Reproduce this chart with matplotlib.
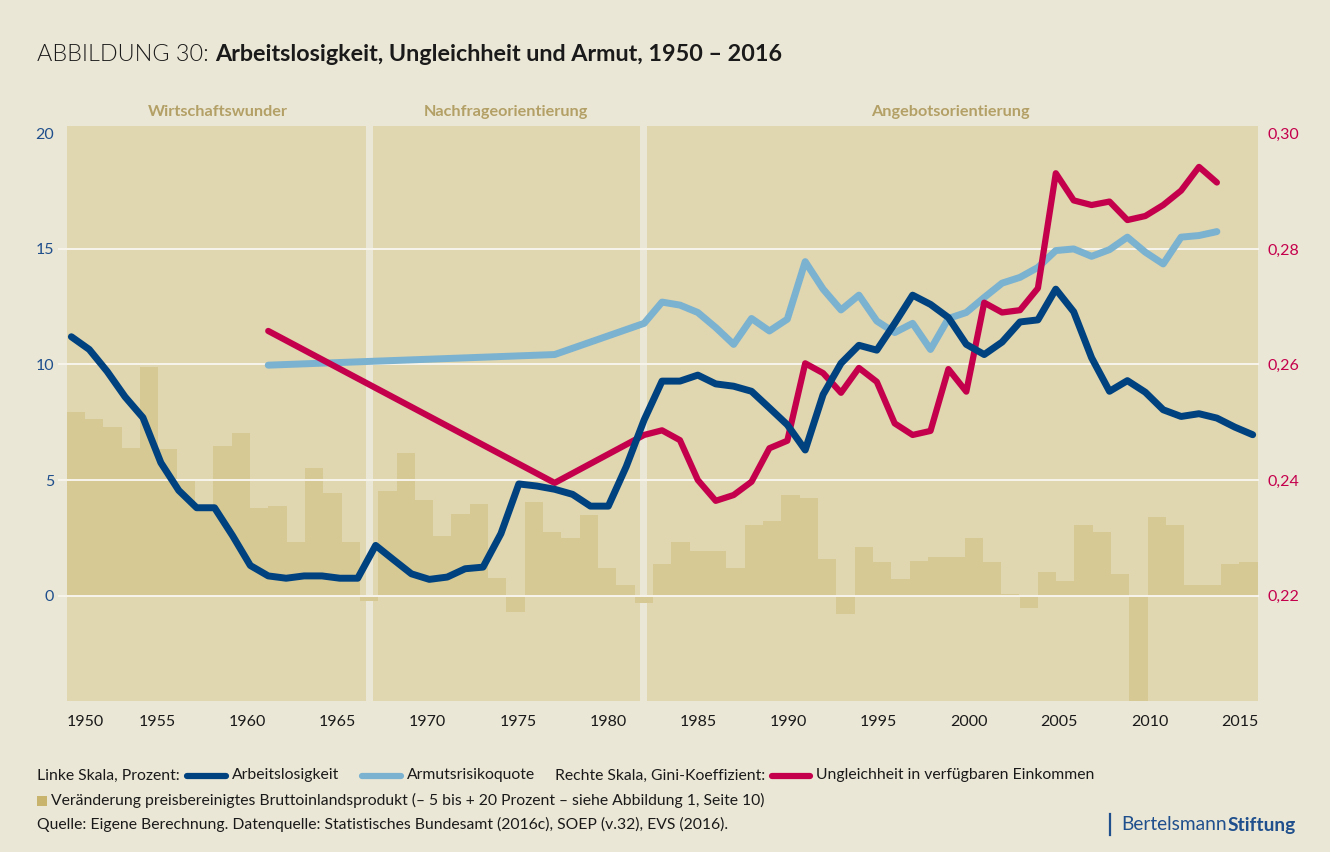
import matplotlib
matplotlib.use("Agg")
import matplotlib.pyplot as plt
from matplotlib.lines import Line2D
from matplotlib.patches import Rectangle

# --- data ---
years = list(range(1950, 2017))
unemployment = [11.2, 10.65, 9.7, 8.6, 7.7, 5.75, 4.55, 3.8, 3.8, 2.6,
                1.3, 0.85, 0.75, 0.85, 0.85, 0.75, 0.75, 2.17, 1.55, 0.94,
                0.7, 0.8, 1.16, 1.23, 2.68, 4.83, 4.74, 4.6, 4.38, 3.87,
                3.87, 5.58, 7.6, 9.28, 9.28, 9.54, 9.16, 9.06, 8.84, 8.12,
                7.39, 6.3, 8.7, 10.05, 10.83, 10.62, 11.78, 13.0, 12.6, 12.03,
                10.87, 10.43, 10.97, 11.84, 11.93, 13.26, 12.28, 10.29, 8.84, 9.3,
                8.8, 8.04, 7.75, 7.87, 7.68, 7.29, 6.96]

survey_years = [1961, 1977] + list(range(1982, 2015))
poverty = [9.97, 10.43, 11.78, 12.7, 12.57, 12.25, 11.6, 10.87, 11.99, 11.45,
           11.96, 14.45, 13.26, 12.36, 13.0, 11.88, 11.38, 11.78, 10.65, 11.99,
           12.25, 12.9, 13.52, 13.77, 14.2, 14.93, 15.0, 14.68, 14.97, 15.51,
           14.86, 14.35, 15.51, 15.58, 15.75]
gini = [0.2658, 0.2395, 0.2478, 0.2486, 0.2469, 0.2400, 0.2364, 0.2374, 0.2397, 0.2455,
        0.2468, 0.2602, 0.2585, 0.2551, 0.2594, 0.2570, 0.2498, 0.2478, 0.2485, 0.2592,
        0.2553, 0.2707, 0.2690, 0.2694, 0.2732, 0.2931, 0.2884, 0.2876, 0.2882, 0.2850,
        0.2857, 0.2876, 0.2901, 0.2942, 0.2915]

gdp_years = list(range(1951, 2016))
gdp = [7.94, 7.64, 7.29, 6.39, 9.91, 6.34, 4.97, 3.75, 6.47, 7.03,
       3.8, 3.87, 2.32, 5.52, 4.44, 2.32, -0.22, 4.52, 6.17, 4.13,
       2.59, 3.53, 3.96, 0.76, -0.7, 4.05, 2.75, 2.49, 3.48, 1.19,
       0.45, -0.31, 1.36, 2.32, 1.93, 1.93, 1.19, 3.05, 3.22, 4.35,
       4.22, 1.58, -0.79, 2.1, 1.45, 0.71, 1.49, 1.67, 1.67, 2.49,
       1.45, 0.06, -0.53, 1.02, 0.63, 3.05, 2.75, 0.93, -4.6, 3.4,
       3.05, 0.45, 0.45, 1.36, 1.45]

era_names = ["Wirtschaftswunder", "Nachfrageorientierung", "Angebotsorientierung"]
era_edges = [1950, 1966.77, 1981.95, 2016]

left_ticks = [0, 5, 10, 15, 20]
grid_levels = [0, 5, 10, 15]
right_ticks = [0.22, 0.24, 0.26, 0.28, 0.30]
x_ticks = list(range(1950, 2016, 5))

# --- style ---
BG = "#ebe7d6"
PANEL = "#e0d6b0"
BAR = "#d6c994"
GRID = "#f7f4ec"
DARK_BLUE = "#00427f"
LIGHT_BLUE = "#7ab2d0"
RED = "#c4004c"
LEFT_COL = "#1f4f8c"
ERA_COL = "#b3a066"
SQ_COL = "#c9b46e"
TXT = "#1a1a1a"

plt.rcParams["font.family"] = ["Lato", "DejaVu Sans"]

W, H = 1330, 852
AX_L, AX_R, AX_T, AX_B = 66.7, 1257.7, 126, 700.7


def to_gini(v):
    return 0.22 + 0.004 * v


def from_gini(g):
    return (g - 0.22) / 0.004


fig = plt.figure(figsize=(W / 100, H / 100), dpi=100, facecolor=BG)
renderer = fig.canvas.get_renderer()

ax = fig.add_axes([AX_L / W, 1 - AX_B / H, (AX_R - AX_L) / W, (AX_B - AX_T) / H])
ax.set_facecolor(PANEL)
ax.set_xlim(1950, 2016)
ax.set_ylim(-4.55, 20.32)
for s in ax.spines.values():
    s.set_visible(False)

# era separators + labels
for i, name in enumerate(era_names):
    if i > 0:
        ax.axvspan(era_edges[i] - 0.2, era_edges[i] + 0.2, color=BG, lw=0, zorder=1)
    mid = (era_edges[i] + era_edges[i + 1]) / 2
    ax.text(mid, (AX_B - 112) / (AX_B - AX_T), name, transform=ax.get_xaxis_transform(),
            ha="center", va="center", fontsize=11.7, fontweight="bold", color=ERA_COL)

# ticks
ax.set_yticks(left_ticks)
ax.tick_params(axis="y", length=0, pad=9, labelsize=11.5, labelcolor=LEFT_COL)
ax.set_xticks(x_ticks)
ax.set_xticklabels([str(y) for y in x_ticks])
ax.tick_params(axis="x", length=0, pad=10, labelsize=11.5, labelcolor=TXT)
ax.get_xticklabels()[0].set_ha("left")

sec = ax.secondary_yaxis("right", functions=(to_gini, from_gini))
sec.set_yticks(right_ticks)
sec.set_yticklabels([f"{t:.2f}".replace(".", ",") for t in right_ticks])
sec.tick_params(length=0, pad=7, labelsize=11.5, labelcolor=RED)
for s in sec.spines.values():
    s.set_visible(False)

# GDP bars (65 bars spread over the full width)
ax_bar = ax.twiny()
ax_bar.set_xlim(gdp_years[0] - 0.5, gdp_years[-1] + 0.5)
ax_bar.axis("off")
ax_bar.bar(gdp_years, gdp, width=1.0, color=BAR, lw=0, zorder=2)
for v in grid_levels:
    ax_bar.axhline(v, xmin=-7.5 / (AX_R - AX_L), xmax=1, color=GRID, lw=1.4,
                   zorder=3, clip_on=False)

# lines
ax_line = ax.twiny()
ax_line.set_xlim(1949.74, 2016.28)
ax_line.axis("off")
kw = dict(solid_capstyle="round", solid_joinstyle="round")
ax_line.plot(survey_years, poverty, color=LIGHT_BLUE, lw=5, zorder=2, **kw)
ax_line.plot(survey_years, [from_gini(g) for g in gini], color=RED, lw=4.5, zorder=3, **kw)
ax_line.plot(years, unemployment, color=DARK_BLUE, lw=5, zorder=4, **kw)


# --- title & footer (pixel positions from top-left) ---
def put_text(s, x, y, va="center", **kw):
    t = fig.text(x / W, 1 - y / H, s, ha="left", va=va, **kw)
    return t.get_window_extent(renderer).x1


def put_sample(color, x, y, length=45, lw=4.5):
    r = lw * 100 / 72 / 2
    fig.add_artist(Line2D([(x + r) / W, (x + length - r) / W], [1 - y / H] * 2,
                          color=color, lw=lw, solid_capstyle="round",
                          transform=fig.transFigure))
    return x + length


x = put_text("ABBILDUNG 30: ", 37, 61, va="baseline", fontsize=16.8, fontweight=300, color=TXT)
put_text("Arbeitslosigkeit, Ungleichheit und Armut, 1950 – 2016", x, 61, va="baseline",
         fontsize=16.8, fontweight="bold", color=TXT)

fs = 11.3
y1, y2, y3 = 775.5, 800.5, 824
x = put_text("Linke Skala, Prozent:", 37, y1, fontsize=fs, color=TXT)
x = put_sample(DARK_BLUE, x + 4, y1)
x = put_text("Arbeitslosigkeit", x + 3, y1, fontsize=fs, color=TXT)
x = put_sample(LIGHT_BLUE, x + 20, y1)
x = put_text("Armutsrisikoquote", x + 3, y1, fontsize=fs, color=TXT)
x = put_text("Rechte Skala, Gini-Koeffizient:", x + 20, y1, fontsize=fs, color=TXT)
x = put_sample(RED, x + 3, y1)
put_text("Ungleichheit in verfügbaren Einkommen", x + 3, y1, fontsize=fs, color=TXT)

fig.add_artist(Rectangle((37 / W, 1 - (y2 + 5) / H), 10 / W, 10 / H, color=SQ_COL,
                         transform=fig.transFigure, lw=0))
put_text("Veränderung preisbereinigtes Bruttoinlandsprodukt (– 5 bis + 20 Prozent – siehe Abbildung 1, Seite 10)",
         51, y2, fontsize=fs, color=TXT)
put_text("Quelle: Eigene Berechnung. Datenquelle: Statistisches Bundesamt (2016c), SOEP (v.32), EVS (2016).",
         37, y3, fontsize=fs, color=TXT)

# Bertelsmann logo
fig.add_artist(Line2D([1109.5 / W] * 2, [1 - 814 / H, 1 - 835 / H], color=LEFT_COL, lw=1.6,
                      transform=fig.transFigure))
x = put_text("Bertelsmann", 1121, y3 + 1, fontsize=13.8, color=LEFT_COL)
put_text("Stiftung", x + 1, y3 + 1, fontsize=13.8, fontweight="bold", color=LEFT_COL)

fig.savefig("out.png", dpi=100, facecolor=BG)
